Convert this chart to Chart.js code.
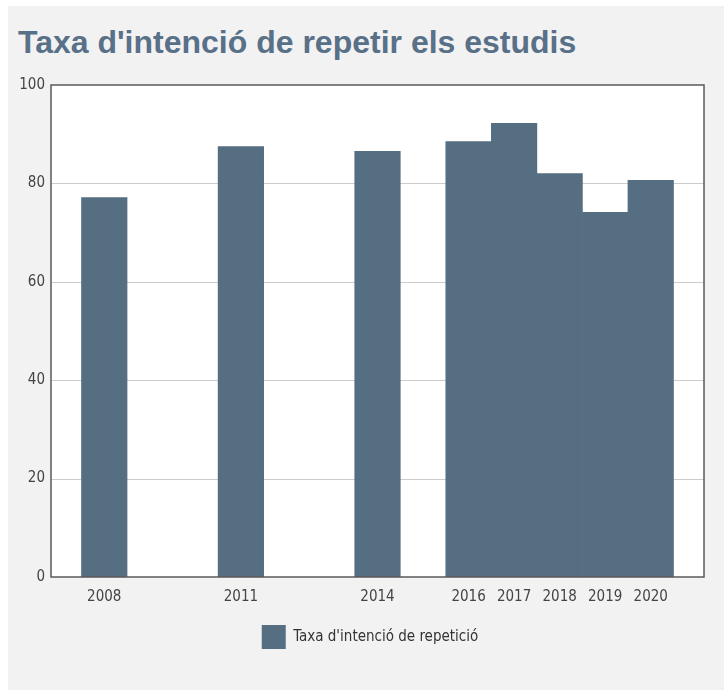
<!DOCTYPE html>
<html>
<head>
<meta charset="utf-8">
<script src="https://cdn.jsdelivr.net/npm/chart.js@4/dist/chart.umd.min.js"></script>
<style>
  body { margin: 0; background: #fff; }
  #panel { position: absolute; left: 8px; top: 6px; width: 716px; height: 684px; background: #f2f2f2; }
  #titre { position: absolute; left: 10px; top: 20px; margin: 0; font: bold 32px "Liberation Sans", Arial, sans-serif; line-height: 32px; color: #587088; }
  canvas { position: absolute; left: 0; top: 0; }
</style>
</head>
<body>
<div id="panel">
  <h1 id="titre">Taxa d'intenció de repetir els estudis</h1>
  <canvas id="graf" width="716" height="684"></canvas>
</div>
<script>
// ..................les dades........................
const anys = [2008, 2011, 2014, 2016, 2017, 2018, 2019, 2020];
const taxa = [77.1, 87.5, 86.5, 88.5, 92.2, 82.0, 74.1, 80.6];
const ticksY = [0, 20, 40, 60, 80, 100];
const etiqueta = "Taxa d'intenció de repetició";

const colorBarra = '#566e82';
const fontEixos = 'DejaVu Sans Condensed';

// fons blanc, graella i marc de la zona del grafic
const marc = {
    id: 'marc',
    afterLayout(chart) {
        // la llegenda va centrada una mica mes a la dreta
        chart.legend.left += 14;
        chart.legend.right += 14;
    },
    beforeDatasetsDraw(chart) {
        const {ctx, chartArea: a} = chart;
        ctx.save();
        ctx.fillStyle = '#ffffff';
        ctx.fillRect(a.left, a.top, a.right - a.left, a.bottom - a.top);
        const y = chart.scales.y;
        ctx.strokeStyle = '#cccccc';
        ctx.lineWidth = 1;
        ticksY.forEach(v => {
            if (v === 0 || v === 100) return;
            const py = Math.round(y.getPixelForValue(v)) + 0.5;
            ctx.beginPath();
            ctx.moveTo(a.left, py);
            ctx.lineTo(a.right, py);
            ctx.stroke();
        });
        ctx.restore();
    },
    afterDatasetsDraw(chart) {
        const {ctx, chartArea: a} = chart;
        ctx.save();
        ctx.strokeStyle = '#5a5a5a';
        ctx.lineWidth = 1.5;
        ctx.strokeRect(a.left, a.top, a.right - a.left, a.bottom - a.top);
        ctx.restore();
    }
};

const ctx = document.getElementById('graf').getContext('2d');
const chart = new Chart(ctx, {
    type: 'bar',
    data: {
        datasets: [{
            label: etiqueta,
            data: anys.map((a, i) => ({x: a, y: taxa[i]})),
            backgroundColor: colorBarra,
            borderWidth: 0,
            barPercentage: 1,
            categoryPercentage: 1
        }]
    },
    plugins: [marc],
    options: {
        responsive: false,
        animation: false,
        layout: {
            padding: {left: 0, right: 20, top: 79, bottom: 31}
        },
        plugins: {
            title: {display: false},
            tooltip: {enabled: false},
            legend: {
                position: 'bottom',
                labels: {
                    boxWidth: 24,
                    boxHeight: 24,
                    padding: 10,
                    color: '#333333',
                    font: {family: fontEixos, size: 15}
                }
            }
        },
        scales: {
            x: {
                type: 'linear',
                min: 2006.83,
                max: 2021.17,
                offset: false,
                afterBuildTicks: s => { s.ticks = anys.map(v => ({value: v})); },
                afterFit: s => { s.height = 38; },
                grid: {display: false, drawTicks: false},
                border: {display: false},
                ticks: {
                    color: '#444444',
                    padding: 11,
                    maxRotation: 0,
                    autoSkip: false,
                    font: {family: fontEixos, size: 15},
                    callback: v => String(v)
                }
            },
            y: {
                min: 0,
                max: 100,
                afterBuildTicks: s => { s.ticks = ticksY.map(v => ({value: v})); },
                afterFit: s => { s.width = 43; },
                grid: {display: false, drawTicks: false},
                border: {display: false},
                ticks: {
                    color: '#444444',
                    padding: 6,
                    font: {family: fontEixos, size: 15}
                }
            }
        }
    }
});
</script>
</body>
</html>
